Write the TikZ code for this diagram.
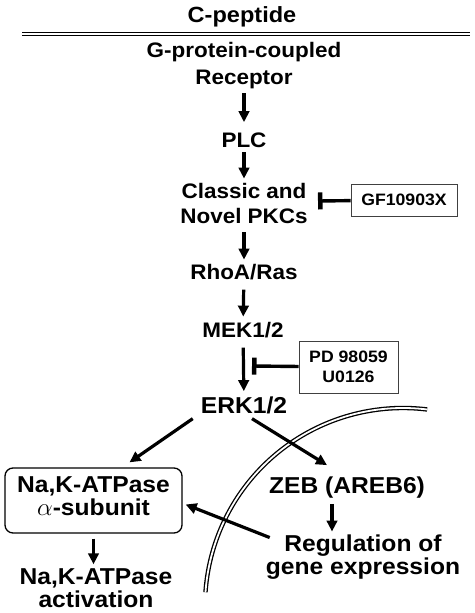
\documentclass[tikz,border=0pt]{standalone}
\usepackage{fontspec}
\setmainfont{Liberation Sans}[FakeStretch=1.07]
\usetikzlibrary{positioning, arrows.meta, calc}
\tikzset{
  pathway/.style={
	x=1pt, y=-1pt, % one unit is one pixel of the figure, y going down
	every node/.style={inner sep=1pt, font=\bfseries\fontsize{21}{25}\selectfont},
	arr/.style={-{Triangle[length=11pt,width=10.5pt]}, line width=3.2pt}, % the black arrows
	inhib/.style={-{Bar[width=17pt,line width=4.5pt]}, line width=3.4pt}, % blocked steps
	drug/.style={draw=black!75, line width=0.9pt, align=center, font=\bfseries\fontsize{16.5}{20}\selectfont}, % inhibitor boxes
	big/.style={font=\bfseries\fontsize{23}{23}\selectfont},
	memb/.style={double, line width=1.3pt, double distance=1.8pt}, % membranes
  }
}

\begin{document}
\begin{tikzpicture}[pathway]
\useasboundingbox (0,0) rectangle (474,613);

% cell membrane and nucleus
\draw[memb] (22,34) -- (470,34);
\draw[memb] (403,606) ++(-83:198) arc[start angle=-83, end angle=-176, radius=198];

\node[anchor=base, font=\bfseries\fontsize{22}{25}\selectfont] (cpep) at (242,22) {C-peptide};
\node[align=center, font=\bfseries\fontsize{21}{27}\selectfont] (gpcr) at (244,66) {G-protein-coupled\\Receptor};
\node[anchor=base] (plc) at (244,147) {PLC};
\node[align=center] (pkc) at (244,203) {Classic and\\Novel PKCs};
\node[anchor=base] (rhoa) at (244,279) {RhoA/Ras};
\node[anchor=base] (mek) at (243,337) {MEK1/2};
\node[anchor=base, big] (erk) at (244,413) {ERK1/2};
\node[anchor=base, big] (zeb) at (347,493) {ZEB (AREB6)};
\node[align=center, big] (reg) at (363,557) {Regulation of\\gene expression};
\node[draw, rounded corners=8pt, line width=1.3pt, align=center, big, minimum width=177pt, minimum height=65pt, text depth=9pt] (atp) at (93.5,500.5) {Na,K-ATPase\\$\alpha$-subunit};
\node[align=center, big] (act) at (96,588) {Na,K-ATPase\\activation};
\node[drug, minimum width=106pt, minimum height=32pt] (gf) at (404,200) {GF10903X};
\node[drug, minimum width=99pt, minimum height=52pt] (pd) at (348.5,367) {PD 98059\\U0126};

\coordinate (pkcbar) at (318,201);
\coordinate (erkbar) at (252,366);

\draw[arr] (gpcr) edge[shorten <=3pt, shorten >=9pt] (plc)
	(plc) edge[shorten <=4pt, shorten >=3pt] (pkc)
	(pkc) edge[shorten <=8pt, shorten >=3pt] (rhoa)
	(rhoa) edge[shorten <=9pt, shorten >=4pt] (mek)
	(mek) edge[shorten <=9pt, shorten >=4pt] (erk)
;
\draw[arr] ([xshift=-7pt,yshift=-4pt]erk.south west) -- ([xshift=36pt,yshift=5pt]atp.north);
\draw[arr] ([xshift=8pt,yshift=-4pt]erk.south) -- ([xshift=-20pt,yshift=10pt]zeb.north);
\draw[arr, shorten <=5pt, shorten >=2pt] ([xshift=-15pt]zeb.south) -- ([xshift=-15pt]zeb.south |- reg.north);
\draw[arr] ([xshift=5pt,yshift=-4pt]reg.north west) -- ([xshift=3pt,yshift=-4pt]atp.east);
\draw[arr, shorten <=5pt, shorten >=3pt] (atp.south) -- (atp.south |- act.north);
\draw[inhib] (gf) -- (pkcbar);
\draw[inhib] (pd) -- (erkbar);
\end{tikzpicture}
\end{document}
